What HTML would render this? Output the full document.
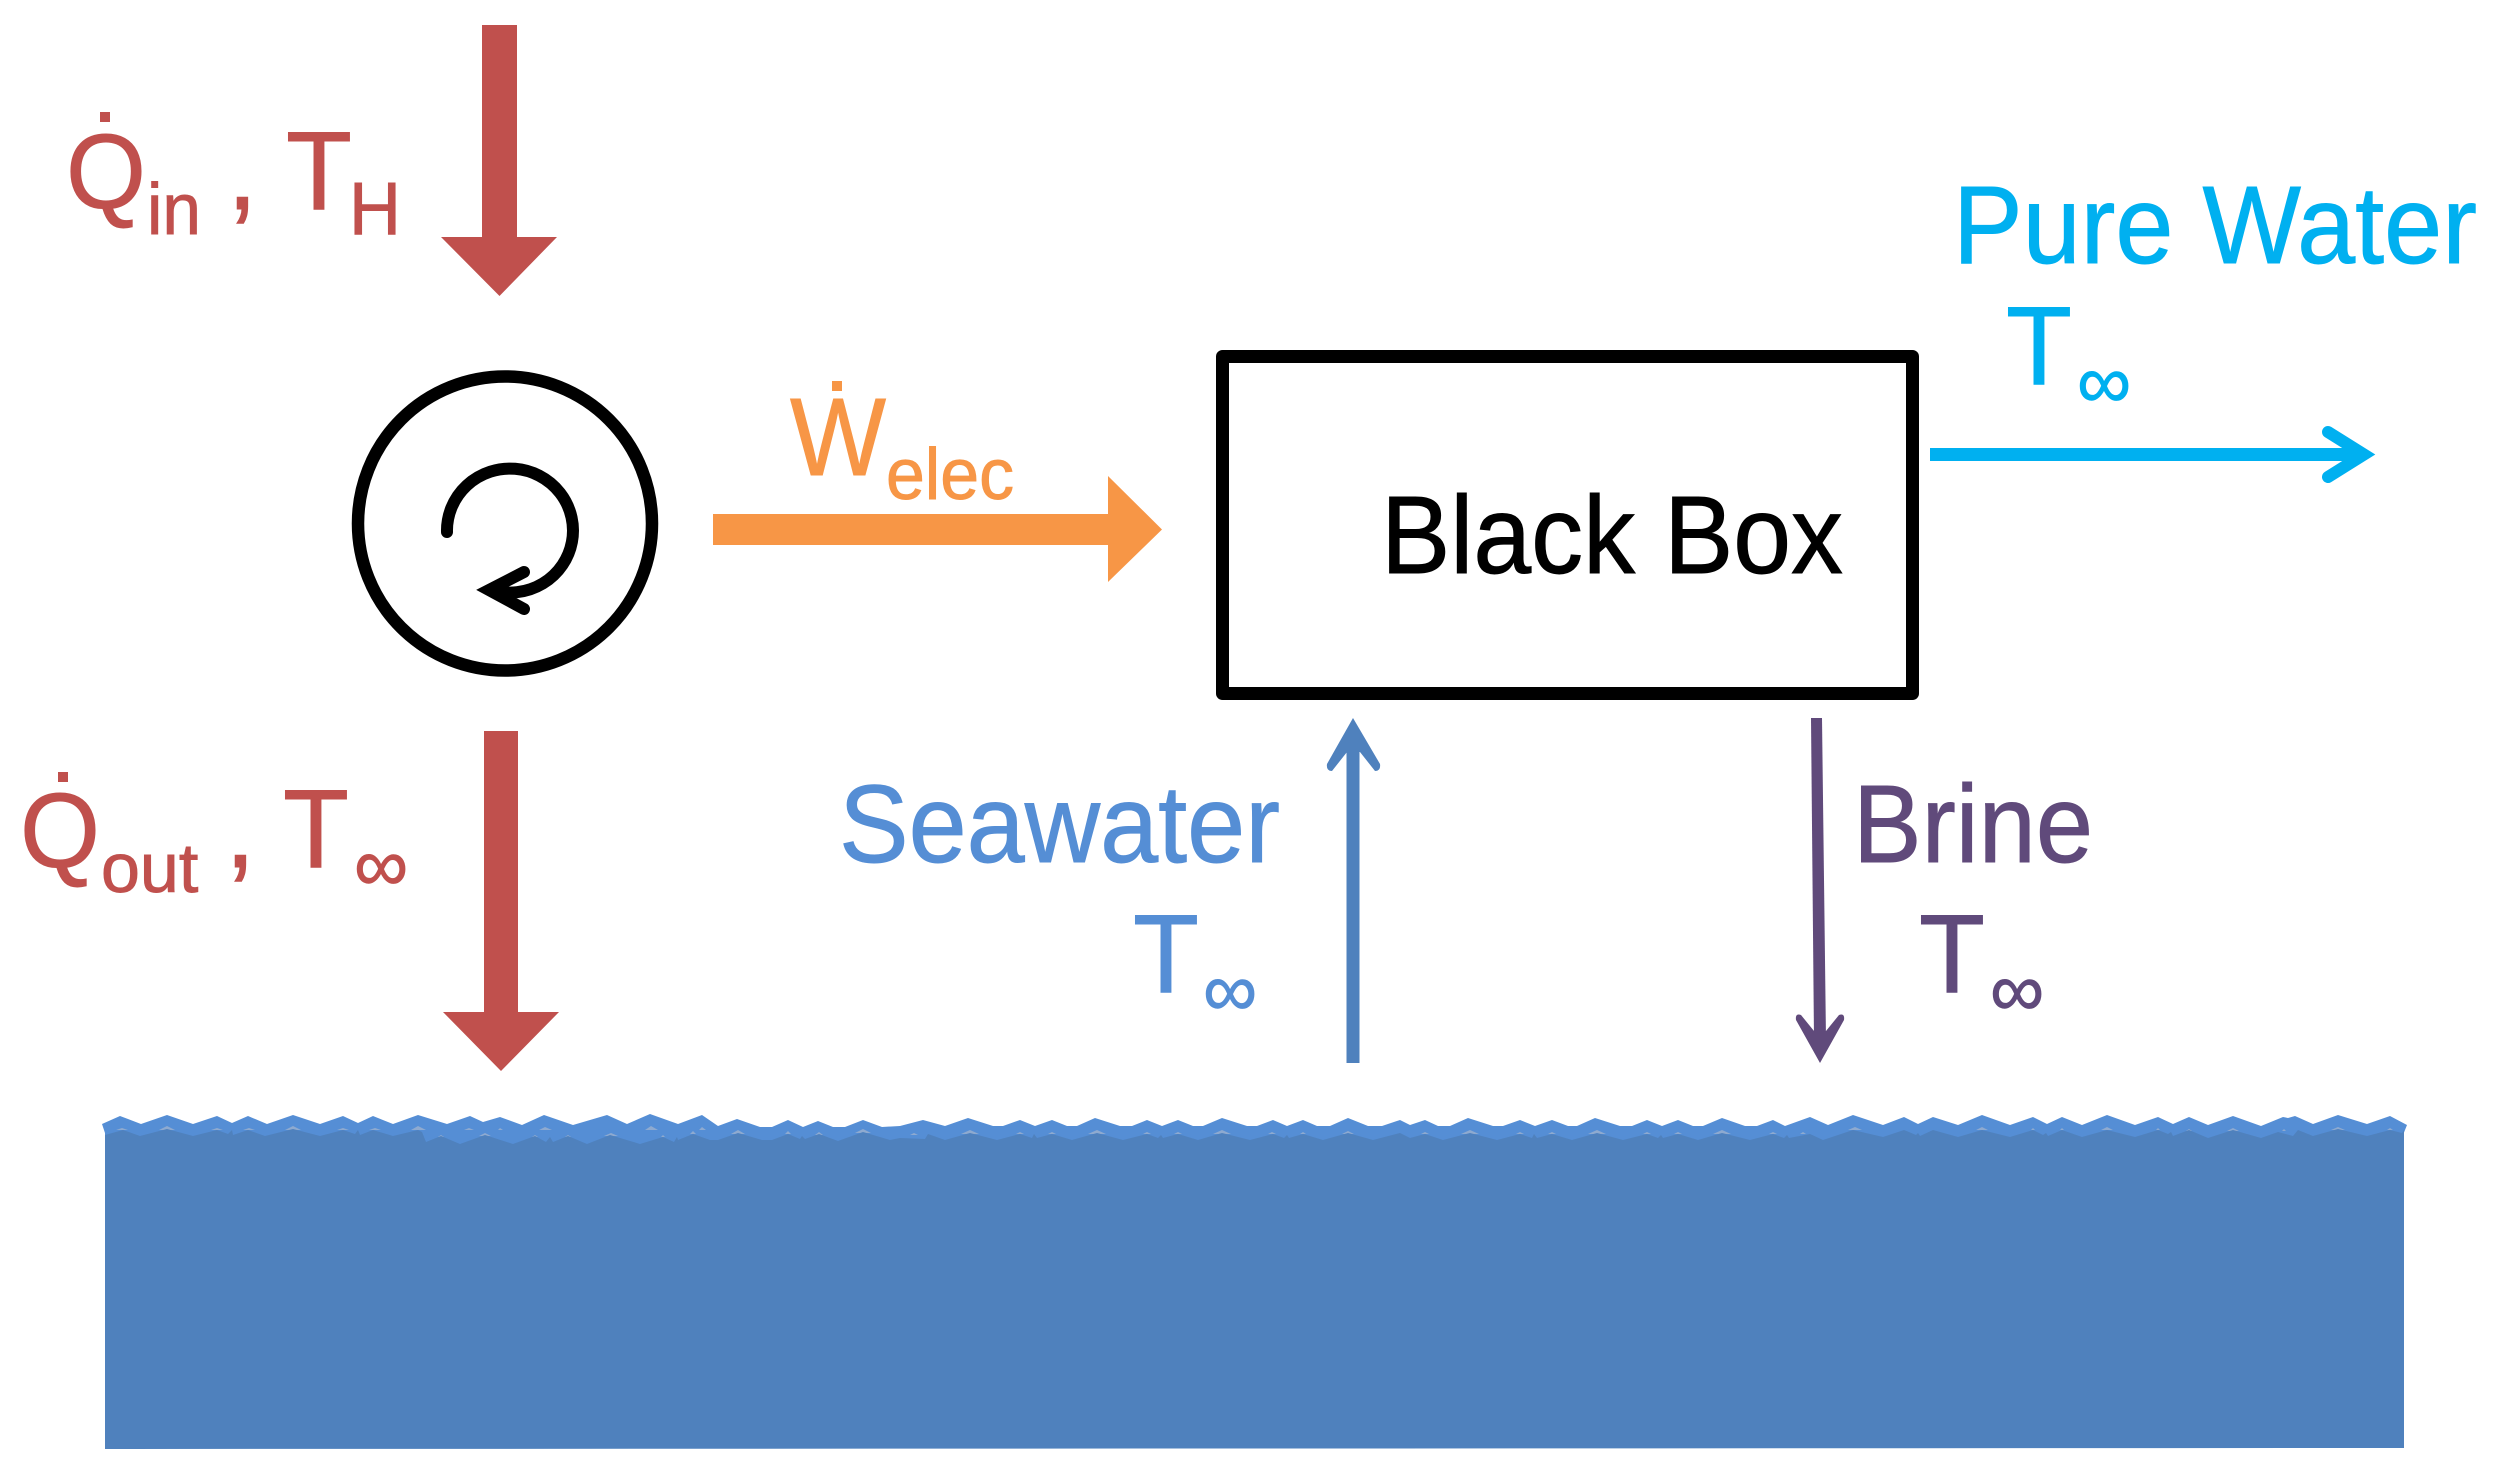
<!DOCTYPE html>
<html>
<head>
<meta charset="utf-8">
<style>
html,body{margin:0;padding:0;background:#fff;}
svg{display:block;}
text{font-family:"Liberation Sans",sans-serif;stroke-width:0.9;}
</style>
</head>
<body>
<svg width="2501" height="1462" viewBox="0 0 2501 1462" xmlns="http://www.w3.org/2000/svg">
<rect width="2501" height="1462" fill="#fff"/>

<!-- water -->
<polygon fill="#558ed5" points="102,1124 120,1116 141,1124 167,1115 193,1124 217,1116 232,1123 248,1116 267,1124 293,1115 320,1124 343,1116 358,1123 373,1116 393,1124 418,1115 447,1124 470,1116 483,1122 500,1117 522,1125 544,1115 573,1125 607,1115 627,1124 650,1114 678,1124 702,1115 718,1126 737,1119 760,1127 772,1127 788,1120 803,1127 818,1121 833,1127 845,1127 863,1120 882,1127 900,1126 923,1120 945,1126 968,1118 993,1126 1003,1126 1020,1120 1035,1126 1052,1120 1067,1126 1077,1126 1095,1118 1120,1126 1132,1126 1147,1120 1162,1126 1178,1120 1193,1126 1203,1126 1222,1118 1247,1126 1257,1126 1273,1120 1287,1126 1303,1120 1317,1126 1330,1126 1348,1118 1368,1126 1382,1126 1400,1120 1410,1125 1425,1120 1438,1126 1450,1126 1468,1118 1493,1126 1503,1126 1520,1120 1535,1126 1552,1120 1568,1126 1577,1126 1595,1118 1620,1126 1632,1126 1647,1120 1662,1126 1678,1120 1693,1126 1703,1126 1722,1118 1745,1126 1757,1126 1773,1120 1785,1126 1810,1117 1828,1125 1853,1115 1883,1125 1904,1117 1918,1124 1933,1117 1958,1125 1982,1115 2010,1125 2033,1117 2047,1124 2062,1117 2082,1125 2107,1115 2135,1125 2158,1117 2173,1124 2189,1117 2208,1125 2233,1116 2261,1126 2283,1117 2288,1118 2295,1116 2313,1124 2338,1115 2367,1124 2390,1116 2407,1125 2403,1135 2403,1150 105,1150 105,1133"/>
<path fill="#8eaad0" d="M116 1130L122 1128L128 1130ZM159 1130L167 1126L175 1130ZM211 1130L217 1128L223 1130ZM243 1130L249 1128L255 1130ZM285 1130L293 1126L301 1130ZM337 1130L343 1128L349 1130ZM369 1130L375 1128L381 1130ZM411 1130L418 1126L426 1130ZM464 1130L469 1128L474 1130ZM498 1130L500 1128L503 1130ZM539 1130L545 1127L552 1130ZM645 1130L651 1126L658 1130ZM699 1130L702 1127L706 1130ZM438 1137L441 1135L444 1137ZM479 1136L485 1133L491 1136ZM532 1137L535 1135L538 1137ZM565 1137L568 1135L571 1137ZM604 1136L611 1133L618 1136ZM661 1137L663 1135L665 1137ZM690 1134L693 1131L696 1134ZM731 1134L738 1130L745 1134ZM785 1134L788 1131L791 1134ZM815 1135L819 1132L823 1135ZM855 1133L863 1129L871 1133ZM910 1135L914 1133L918 1135ZM961 1134L970 1130L979 1134ZM1016 1134L1020 1132L1024 1134ZM1048 1134L1052 1132L1056 1134ZM1088 1134L1097 1130L1106 1134ZM1143 1134L1147 1132L1151 1134ZM1174 1134L1178 1132L1182 1134ZM1213 1134L1222 1130L1231 1134ZM1268 1134L1272 1132L1276 1134ZM1300 1134L1303 1132L1306 1134ZM1342 1134L1348 1131L1354 1134ZM1421 1134L1425 1132L1429 1134ZM1461 1134L1470 1130L1479 1134ZM1516 1134L1520 1132L1524 1134ZM1548 1134L1552 1132L1556 1134ZM1588 1134L1597 1130L1606 1134ZM1643 1134L1647 1132L1651 1134ZM1674 1134L1678 1132L1682 1134ZM1713 1134L1722 1130L1731 1134ZM1769 1134L1773 1132L1777 1134ZM1800 1134L1803 1132L1806 1134ZM1848 1130L1855 1127L1862 1130ZM1976 1130L1982 1127L1988 1130ZM2031 1130L2033 1128L2035 1130ZM2060 1130L2062 1128L2064 1130ZM2101 1130L2107 1127L2113 1130ZM2156 1130L2158 1128L2160 1130ZM2186 1131L2189 1129L2192 1131ZM2227 1131L2233 1128L2239 1131ZM2282 1131L2284 1129L2286 1131ZM2331 1130L2338 1127L2345 1130ZM2387 1130L2390 1128L2393 1130Z"/>
<polygon fill="#4f81bd" points="105,1135 123,1130 140,1136 167,1129 193,1136 217,1130 228,1134 232,1130 233,1135 248,1130 265,1136 293,1129 320,1136 343,1130 355,1134 358,1130 360,1135 373,1130 393,1136 418,1130 422,1132 426,1142 441,1136 460,1144 485,1135 513,1144 535,1136 546,1142 550,1137 553,1142 568,1136 587,1144 610,1135 640,1144 663,1137 674,1142 677,1137 678,1140 693,1134 710,1140 718,1140 738,1133 762,1140 772,1140 788,1134 800,1139 802,1136 805,1139 819,1134 838,1141 863,1132 890,1140 900,1138 925,1139 928,1134 945,1140 970,1133 997,1140 1020,1134 1032,1138 1034,1134 1037,1138 1052,1134 1072,1140 1097,1133 1123,1140 1147,1134 1158,1138 1161,1135 1163,1138 1178,1134 1198,1140 1222,1133 1250,1140 1273,1134 1284,1138 1287,1135 1289,1138 1303,1134 1323,1140 1348,1133 1373,1140 1400,1133 1410,1138 1425,1134 1443,1140 1470,1133 1497,1140 1520,1134 1532,1138 1534,1134 1537,1138 1552,1134 1572,1140 1597,1133 1623,1140 1647,1134 1658,1138 1661,1135 1663,1138 1678,1134 1698,1140 1722,1133 1750,1140 1773,1134 1784,1138 1787,1135 1789,1138 1810,1134 1823,1140 1853,1130 1883,1137 1904,1130 1916,1135 1918,1133 1920,1136 1933,1130 1958,1137 1982,1130 2010,1137 2033,1130 2043,1135 2046,1133 2048,1136 2062,1130 2082,1137 2107,1130 2135,1137 2158,1130 2168,1134 2171,1132 2173,1136 2189,1130 2208,1138 2233,1130 2261,1138 2278,1132 2293,1136 2298,1130 2313,1136 2338,1129 2367,1136 2390,1130 2402,1133 2404,1130 2404,1448 105,1449"/>

<!-- red arrows -->
<polygon fill="#c0504d" points="482,25 517,25 517,237 557,237 499.5,296 441,237 482,237"/>
<polygon fill="#c0504d" points="484,731 518,731 518,1012 559,1012 501,1071 443,1012 484,1012"/>

<!-- cycle circle -->
<circle cx="505" cy="523.5" r="147" fill="none" stroke="#000" stroke-width="12.5"/>
<path d="M447 532A63 62 0 1 1 492 590" fill="none" stroke="#000" stroke-width="12" stroke-linecap="round"/>
<polyline points="524,572 489,590 524,609" fill="none" stroke="#000" stroke-width="12" stroke-linecap="round" stroke-miterlimit="10"/>

<!-- orange arrow -->
<polygon fill="#f79646" points="713,514 1108,514 1108,476 1162,529.5 1108,582 1108,545 713,545"/>

<!-- black box -->
<rect x="1222.5" y="356.5" width="690" height="337" fill="#fff" stroke="#000" stroke-width="13" stroke-linejoin="round"/>

<!-- cyan arrow -->
<line x1="1930" y1="454.5" x2="2362" y2="454.5" stroke="#00b0f0" stroke-width="13"/>
<polyline points="2328,432 2364,454.5 2328,477" fill="none" stroke="#00b0f0" stroke-width="12" stroke-linecap="round" stroke-miterlimit="10"/>

<!-- seawater arrow -->
<line x1="1353" y1="745" x2="1353" y2="1063" stroke="#4f81bd" stroke-width="13"/>
<path fill="#4f81bd" d="M1353 718L1380 764Q1381 771 1375 771L1360 752L1347 752L1332 771Q1326 771 1327 764Z"/>

<!-- brine arrow -->
<polygon fill="#604a7b" points="1811,718 1822,718 1826,1040 1814,1040"/>
<path fill="#604a7b" d="M1820 1063L1844 1020Q1845 1013 1839 1015L1826 1031L1814 1031L1801 1015Q1795 1013 1796 1020Z"/>

<!-- red labels -->
<g fill="#c0504d" stroke="#c0504d">
<rect x="100" y="112" width="10" height="10" stroke="none"/>
<text x="66" y="208" font-size="106" textLength="80" lengthAdjust="spacingAndGlyphs">Q</text>
<text x="147" y="234" font-size="72" textLength="54" lengthAdjust="spacingAndGlyphs">in</text>
<text x="227" y="209" font-size="110">,</text>
<text x="286" y="209" font-size="111" textLength="66" lengthAdjust="spacingAndGlyphs">T</text>
<text x="349" y="234" font-size="74" textLength="52" lengthAdjust="spacingAndGlyphs">H</text>
<rect x="58" y="772" width="10" height="10" stroke="none"/>
<text x="20" y="867" font-size="106" textLength="80" lengthAdjust="spacingAndGlyphs">Q</text>
<text x="101" y="892" font-size="70">out</text>
<text x="225" y="867" font-size="110">,</text>
<text x="283" y="867" font-size="111" textLength="66" lengthAdjust="spacingAndGlyphs">T</text>
<text x="354" y="891" font-size="76">∞</text>
</g>

<!-- orange label -->
<g fill="#f79646" stroke="#f79646">
<rect x="832" y="381" width="10" height="10" stroke="none"/>
<text x="790" y="475" font-size="110" textLength="96" lengthAdjust="spacingAndGlyphs">W</text>
<text x="886" y="499" font-size="72" textLength="128" lengthAdjust="spacingAndGlyphs">elec</text>
</g>

<!-- black box label -->
<text x="1381" y="573" font-size="110" fill="#000" stroke="#000" textLength="462" lengthAdjust="spacingAndGlyphs">Black Box</text>

<!-- pure water -->
<g fill="#00b0f0" stroke="#00b0f0">
<text x="1953" y="263" font-size="110" textLength="524" lengthAdjust="spacingAndGlyphs">Pure Water</text>
<text x="2006" y="384" font-size="111" textLength="66" lengthAdjust="spacingAndGlyphs">T</text>
<text x="2077" y="408" font-size="76">∞</text>
</g>

<!-- seawater -->
<g fill="#558ed5" stroke="#558ed5">
<text x="839" y="862" font-size="110" textLength="441" lengthAdjust="spacingAndGlyphs">Seawater</text>
<text x="1133" y="992" font-size="111" textLength="66" lengthAdjust="spacingAndGlyphs">T</text>
<text x="1203" y="1016" font-size="76">∞</text>
</g>

<!-- brine -->
<g fill="#604a7b" stroke="#604a7b">
<text x="1853" y="862" font-size="110" textLength="240" lengthAdjust="spacingAndGlyphs">Brine</text>
<text x="1919" y="992" font-size="111" textLength="66" lengthAdjust="spacingAndGlyphs">T</text>
<text x="1990" y="1016" font-size="76">∞</text>
</g>
</svg>
</body>
</html>
